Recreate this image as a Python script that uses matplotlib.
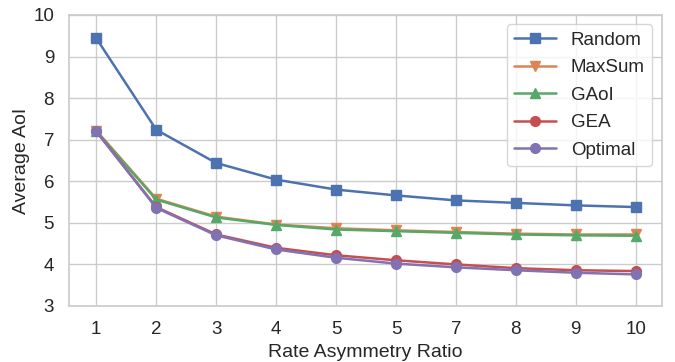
import matplotlib
matplotlib.use("Agg")
import matplotlib.pyplot as plt
import seaborn as sns

x = [1, 2, 3, 4, 5, 6, 7, 8, 9, 10]
xtick_labels = ["1", "2", "3", "4", "5", "5", "7", "8", "9", "10"]
random_vals = [9.44, 7.24, 6.44, 6.04, 5.80, 5.66, 5.54, 5.48, 5.42, 5.38]
maxsum_vals = [7.22, 5.58, 5.15, 4.96, 4.87, 4.82, 4.78, 4.74, 4.72, 4.72]
gaoi_vals = [7.20, 5.56, 5.13, 4.95, 4.84, 4.80, 4.76, 4.72, 4.70, 4.69]
gea_vals = [7.20, 5.38, 4.72, 4.40, 4.22, 4.10, 4.00, 3.91, 3.86, 3.84]
optimal_vals = [7.20, 5.36, 4.70, 4.36, 4.16, 4.02, 3.93, 3.86, 3.80, 3.76]

sns.set_theme(style="whitegrid")
plt.rcParams['font.family'] = ['Liberation Sans', 'DejaVu Sans']

pal = sns.color_palette("deep")
fig, ax = plt.subplots(figsize=(6.75, 3.62), dpi=100)
kw = dict(markersize=7, linewidth=1.8)
ax.plot(x, random_vals, marker='s', color=pal[0], label='Random', **kw)
ax.plot(x, maxsum_vals, marker='v', color=pal[1], label='MaxSum', **kw)
ax.plot(x, gaoi_vals, marker='^', color=pal[2], label='GAoI', **kw)
ax.plot(x, gea_vals, marker='o', color=pal[3], label='GEA', **kw)
ax.plot(x, optimal_vals, marker='o', color=pal[4], label='Optimal', **kw)

ax.set_ylim(3, 10)
ax.set_xlim(0.55, 10.43)
ax.set_xticks(x)
ax.set_xticklabels(xtick_labels)
ax.set_xlabel("Rate Asymmetry Ratio", fontsize=14, labelpad=4)
ax.set_ylabel("Average AoI", fontsize=14, labelpad=2)
ax.tick_params(labelsize=13.5, pad=5)
for s in ax.spines.values():
    s.set_color('#cccccc')
ax.legend(loc='upper right', fontsize=13.5, labelspacing=0.55, handlelength=2.2,
          borderaxespad=0.5)
fig.subplots_adjust(left=0.1027, right=0.980, top=0.9586, bottom=0.1547)
fig.savefig("out.png")
